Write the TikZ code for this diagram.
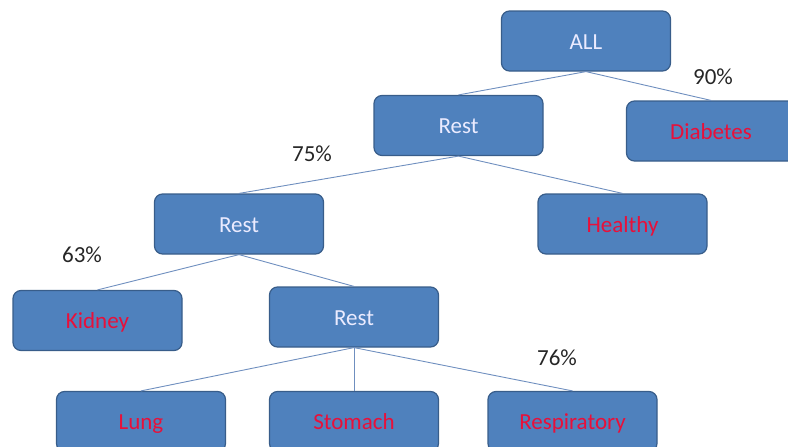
\documentclass[tikz,border=0pt]{standalone}
\usepackage{fontspec}
\setmainfont{Carlito}
\definecolor{boxfill}{HTML}{4F81BD}
\definecolor{boxdraw}{HTML}{385D8A}
\definecolor{leafred}{HTML}{E8103A}
\definecolor{edgecol}{HTML}{6F8FBF}
\definecolor{pcttext}{HTML}{262626}
\begin{document}
\begin{tikzpicture}[x=1pt,y=-1pt,
  box/.style={draw=boxdraw, line width=1.2pt, fill=boxfill, rounded corners=8pt,
    minimum width=169pt, minimum height=60pt, inner sep=0pt,
    text height=17pt, text depth=1pt, font=\fontsize{23}{26}\selectfont},
  inner/.style={box, text=white!92!blue},
  leaf/.style={box, text=leafred},
  edge/.style={draw=edgecol, line width=0.9pt},
  pct/.style={text=pcttext, font=\fontsize{23}{26}\selectfont, inner sep=0pt}]
\useasboundingbox (0,0) rectangle (788,447);
\begin{scope}
\clip (0,0) rectangle (788,447);
\node[inner] (all) at (586,41) {ALL};
\node[inner] (rest1) at (458.5,125.5) {Rest};
\node[leaf] (diab) at (711,131) {Diabetes};
\node[inner] (rest2) at (239,224) {Rest};
\node[leaf] (healthy) at (622.5,224) {Healthy};
\node[leaf] (kidney) at (97.5,320.5) {Kidney};
\node[inner] (rest3) at (354,317) {Rest};
\node[leaf] (lung) at (141,421.5) {Lung};
\node[leaf] (stomach) at (354,421.5) {Stomach};
\node[leaf] (resp) at (572.5,421.5) {Respiratory};

\draw[edge] (all.south) -- (rest1.north);
\draw[edge] (all.south) -- (diab.north);
\draw[edge] (rest1.south) -- (rest2.north);
\draw[edge] (rest1.south) -- (healthy.north);
\draw[edge] (rest2.south) -- (kidney.north);
\draw[edge] (rest2.south) -- (rest3.north);
\draw[edge] (rest3.south) -- (lung.north);
\draw[edge] (rest3.south) -- (stomach.north);
\draw[edge] (rest3.south) -- (resp.north);

\node[pct] (p90) at (713,77) {90\%};
\node[pct] (p75) at (312,154) {75\%};
\node[pct] (p63) at (82,255) {63\%};
\node[pct] (p76) at (557,358) {76\%};
\end{scope}
\end{tikzpicture}
\end{document}
